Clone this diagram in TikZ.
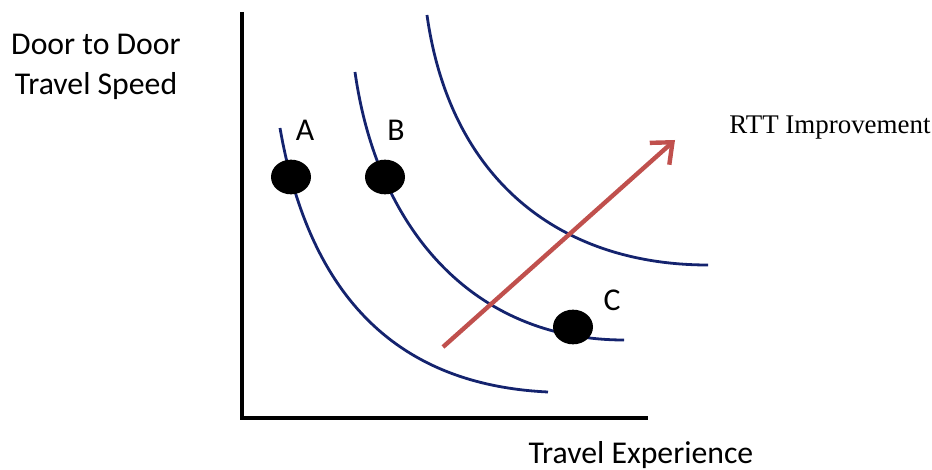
\documentclass[tikz,border=0pt]{standalone}
\usepackage{fontspec}
\setmainfont{Carlito}
\newfontfamily\timesfont{Liberation Serif}
\usetikzlibrary{arrows.meta,shapes.geometric}
\definecolor{curvenavy}{RGB}{20,35,110}
\definecolor{arrowred}{RGB}{192,80,77}
\begin{document}
\begin{tikzpicture}[x=0.75pt,y=-0.75pt,
  axis/.style={line width=2.3pt,black},
  indiff/.style={line width=2.1pt,curvenavy},
  dotmark/.style={ellipse,fill=black,minimum width=30pt,minimum height=26pt,inner sep=0pt},
  lbl/.style={font=\fontsize{23.8}{28}\selectfont,inner sep=0pt},
  ptlbl/.style={font=\fontsize{23.8}{28}\selectfont,inner sep=0pt}]
\useasboundingbox (0,0) rectangle (932,470);
% axes
\coordinate (top) at (242,12);
\coordinate (origin) at (242,418);
\coordinate (xend) at (648,418);
\draw[axis] (top) -- (origin) -- (xend);
% curves
\coordinate (a0) at (280,128);
\coordinate (a1) at (548,392);
\draw[indiff] (a0) .. controls (310,300) and (400,385) .. (a1);
\coordinate (b0) at (355,72);
\coordinate (b1) at (624,340);
\draw[indiff] (b0) .. controls (378,235) and (478,340) .. (b1);
\coordinate (c0) at (427,15);
\coordinate (c1) at (708,265);
\draw[indiff] (c0) .. controls (450,180) and (560,265) .. (c1);
% arrow
\coordinate (r0) at (443,347);
\coordinate (r1) at (675,140);
\draw[line width=3.3pt,arrowred,-{Straight Barb[length=13pt,width=22pt,line width=3.3pt]}] (r0) -- (r1);
% dots
\node[dotmark] (dA) at (291,177) {};
\node[dotmark] (dB) at (385,177) {};
\node[dotmark] (dC) at (573,327) {};
\node[ptlbl] (lA) at (305,130) {A};
\node[ptlbl] (lB) at (396,130) {B};
\node[ptlbl] (lC) at (612,300) {C};
% texts
\node[lbl] (yl1) at (96,44) {Door to Door};
\node[lbl] (yl2) at (96,86) {Travel Speed};
\node[lbl] (xl) at (641,455) {Travel Experience};
\node[font=\timesfont\fontsize{20.2}{24}\selectfont,inner sep=0pt] (rtt) at (830,128) {RTT Improvement};
\end{tikzpicture}
\end{document}
